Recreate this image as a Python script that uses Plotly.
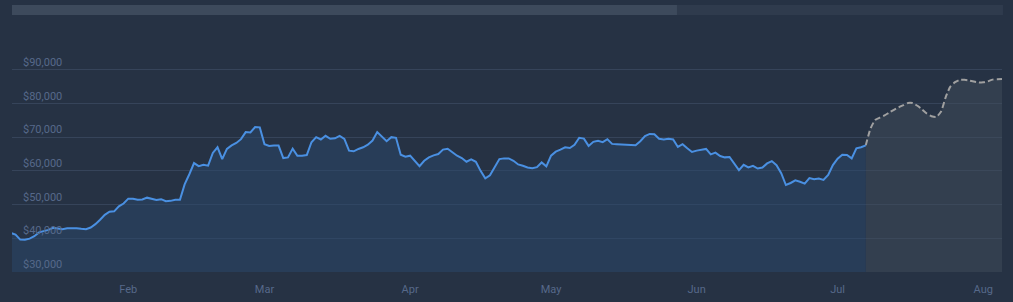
import pandas as pd
import plotly.graph_objects as go

# ---- data ----
start_date = "2024-01-07"
price = [
    41570, 41100, 39600, 39580, 39900, 40600, 41750, 42100, 42500, 43100,
    42900, 42700, 42950, 43000, 42950, 42800, 42700, 43200, 44200, 45500,
    46950, 47900, 48000, 49500, 50300, 51750, 51700, 51400, 51500, 52050,
    51750, 51350, 51600, 51000, 51100, 51400, 51450, 56000, 59000, 62300,
    61400, 61800, 61540, 65300, 67000, 63500, 66500, 67570, 68280, 69400,
    71500, 71400, 73000, 72900, 67900, 67400, 67500, 67500, 63800, 64000,
    66600, 64500, 64500, 64700, 68500, 70000, 69300, 70400, 69500, 69650,
    70400, 69500, 66000, 65800, 66500, 67000, 67770, 69000, 71500, 70000,
    68800, 70000, 69800, 64800, 64200, 64500, 62900, 61400, 63000, 64000,
    64600, 65000, 66300, 66550, 65500, 64500, 63800, 62700, 63400, 62700,
    60000, 57800, 58700, 61000, 63500, 63700, 63700, 63000, 61900, 61500,
    61000, 60800, 61100, 62500, 61330, 64500, 65700, 66300, 67000, 66790,
    67700, 69800, 69560, 67400, 68600, 68900, 68500, 69400, 68000, 67900,
    67800, 67600, 67570, 67600, 68800, 70300, 70950, 70850, 69500, 69300,
    69500, 69300, 67100, 67900, 66700, 65600, 66000, 66300, 66500, 64900,
    65400, 64400, 64000, 64100, 62000, 60200, 61800, 61000, 61500, 60700,
    61000, 62200, 62900, 61700, 59300, 55800, 56400, 57200, 56750, 56200,
    57850, 57500, 57700, 57300, 58800, 61700, 63600, 64800, 64700, 63700,
    66700, 67000, 67570,
]
forecast = [
    67570, 72500, 75100, 75800, 76450, 77300, 78100, 78850, 79500, 80150,
    80100, 79300, 78200, 77000, 76200, 76000, 77500, 81800, 85000, 86300,
    86950, 87000, 86800, 86500, 86250, 86250, 86600, 87060, 87150, 87270,
]
y_ticks = [30000, 40000, 50000, 60000, 70000, 80000, 90000]
y_tick_labels = ["$30,000", "$40,000", "$50,000", "$60,000", "$70,000", "$80,000", "$90,000"]
x_range = ["2024-01-07 06:00", "2024-08-05"]
y_range = [30000, 100000]

price_dates = pd.date_range(start_date, periods=len(price), freq="D")
forecast_dates = pd.date_range(price_dates[-1], periods=len(forecast), freq="D")

BG = "#263244"
GRID = "#36445a"
LABEL = "#56698a"

fig = go.Figure()
fig.add_trace(go.Scatter(
    x=forecast_dates, y=forecast, mode="lines",
    line=dict(color="#a0a0a0", width=2, dash="6px,3px", shape="spline", smoothing=0.6),
    fill="tozeroy", fillcolor="rgba(64,76,90,0.5)", hoverinfo="skip",
))
fig.add_trace(go.Scatter(
    x=price_dates, y=price, mode="lines",
    line=dict(color="#4a90e2", width=2),
    fill="tozeroy", fillcolor="rgba(42,72,108,0.5)",
))

fig.update_layout(
    width=1013, height=302,
    margin=dict(l=12, r=11, t=36, b=30, autoexpand=False),
    paper_bgcolor=BG, plot_bgcolor=BG,
    showlegend=False,
    font=dict(family="Roboto", size=11, color=LABEL),
    shapes=[
        dict(type="rect", xref="paper", yref="paper", x0=0, x1=1.001,
             y0=1.089, y1=1.131, fillcolor="#2f3b4d", line=dict(width=0), layer="below"),
        dict(type="rect", xref="paper", yref="paper", x0=0, x1=0.6717,
             y0=1.089, y1=1.131, fillcolor="#3d4a5c", line=dict(width=0), layer="below"),
    ],
)
fig.update_xaxes(
    type="date", range=x_range, dtick="M1", tickformat="%b",
    showgrid=False, zeroline=False, showline=False, ticks="",
    ticklabelstandoff=9, automargin=False,
    tickfont=dict(size=11, color=LABEL),
)
fig.update_yaxes(
    range=y_range, tickvals=y_ticks, ticktext=y_tick_labels,
    ticklabelposition="inside top", ticklabelstandoff=8, automargin=False,
    showgrid=True, gridcolor=GRID, gridwidth=1, zeroline=False, showline=False, ticks="",
    tickfont=dict(size=11, color=LABEL),
)

fig.write_html("out.html")
